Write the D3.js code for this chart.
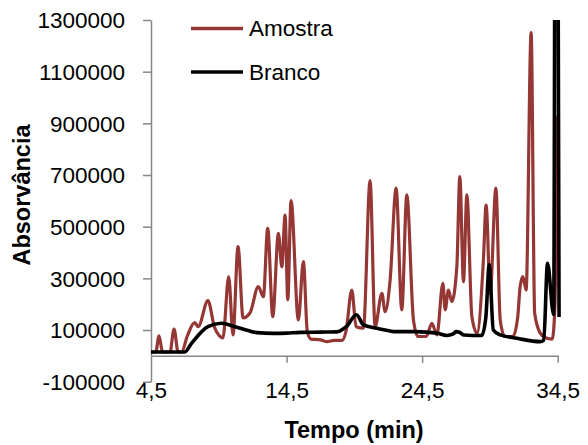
<!DOCTYPE html>
<html>
<head>
<meta charset="utf-8">
<script src="https://cdn.jsdelivr.net/npm/d3@7"></script>
<style>
    body { margin: 0; background: #fff; }
    text { font-family: "Liberation Sans", Arial, sans-serif; fill: #000; }
</style>
</head>
<body>
<svg id="vis" width="588" height="445"></svg>
<script>
const seriesNames = ["Amostra", "Branco"]
const seriesColors = ["#953735", "#000000"]

const xTicks = [4.5, 14.5, 24.5, 34.5]
const yTicks = [-100000, 100000, 300000, 500000, 700000, 900000, 1100000, 1300000]

// Amostra (sample) trace
const amostraTime = [
    4.5, 4.85, 5.09, 5.35, 5.9, 6.2, 6.5, 6.75, 7.2, 7.72, 7.98, 8.7, 9.2, 9.81,
    10.23, 10.55, 10.92, 11.29, 11.8, 12.42, 12.79, 13.11, 13.48, 13.9, 14.15, 14.39,
    14.59, 14.83, 15.37, 15.74, 16.03, 16.3, 17.0, 17.5, 18.0, 18.6, 18.9, 19.31,
    19.63, 20.17, 20.66, 21.03, 21.53, 21.77, 22.14, 22.58, 23.0, 23.37, 23.86, 24.2,
    24.8, 25.22, 25.59, 26.03, 26.2, 26.44, 26.69, 27.06, 27.28, 27.55, 27.8, 28.17,
    28.54, 29.02, 29.22, 29.52, 29.94, 30.26, 30.6, 31.2, 31.55, 31.73, 31.93, 32.17,
    32.54, 32.8, 33.2, 33.6, 34.1, 34.3, 34.5, 34.56
]
const amostraValue = [
    15000, 15000, 77000, 15000, 15000, 104000, 15000, 15000, 80000, 129000, 113000, 214000, 108000, 70000,
    307000, 81000, 423000, 147000, 166000, 268000, 229000, 494000, 152000, 474000, 345000, 545000,
    217000, 601000, 139000, 365000, 94000, 65000, 62000, 55000, 60000, 60000, 100000, 255000,
    113000, 107000, 678000, 113000, 242000, 171000, 294000, 649000, 178000, 623000, 139000, 75000,
    75000, 126000, 81000, 281000, 178000, 255000, 210000, 345000, 694000, 287000, 623000, 152000,
    88000, 371000, 584000, 242000, 649000, 139000, 75000, 75000, 150000, 268000, 307000, 255000,
    1251000, 166000, 89000, 70000, 65000, 200000, 925000, 500000
]

// Branco (blank) trace
const brancoTime = [
    4.5, 6.99, 7.5, 8.7, 9.69, 10.7, 11.66, 12.3, 13.5, 14.5, 15.5, 17.0, 18.2, 18.9,
    19.66, 20.17, 21.15, 21.77, 22.4, 24.0, 25.6, 26.3, 26.8, 27.0, 27.3, 27.55, 28.9,
    29.2, 29.45, 29.75, 30.26, 31.5, 33.2, 33.47, 33.75, 34.2, 34.4, 34.6
]
const brancoValue = [
    15000, 15000, 49000, 113000, 126000, 113000, 98000, 90000, 87000, 88000, 91000, 92000, 93000, 113000,
    159000, 120000, 107000, 100000, 94000, 94000, 88000, 79000, 85000, 94000, 90000, 81000, 79000,
    150000, 352000, 100000, 81000, 68000, 55000, 60000, 358000, 160000, 4000000, 150000
]

var svg = d3.select("#vis")

var xScale = d3.scaleLinear().domain([4.5, 34.5]).range([151, 557.7])
var yScale = d3.scaleLinear().domain([-100000, 1300000]).range([381.7, 20])

var fmt = function(v) { return String(v).replace(".", ",") }

svg.append("defs").append("clipPath")
    .attr("id", "plotclip")
    .append("rect")
    .attr("x", 151).attr("y", 20)
    .attr("width", 415).attr("height", 362)

// y axis
var yAxis = d3.axisLeft(yScale).tickValues(yTicks).tickSizeInner(8).tickSizeOuter(0).tickPadding(18)
    .tickFormat(function(d) { return String(d) })
var yGroup = svg.append("g").attr("transform", "translate(151,0)").call(yAxis)
yGroup.selectAll("text").style("font-size", "22.5px").attr("dy", "0.35em")

// x axis sits at zero
var xAxis = d3.axisBottom(xScale).tickValues(xTicks).tickSizeInner(7).tickSizeOuter(0).tickFormat(fmt)
var xGroup = svg.append("g").attr("transform", "translate(0," + yScale(0) + ")").call(xAxis)
xGroup.selectAll("text").style("font-size", "22.5px").attr("y", 42).attr("dy", 0)
xGroup.selectAll(".tick").filter(function(d) { return d === 4.5 }).select("line").remove()

svg.selectAll(".domain, .tick line").attr("stroke", "#868686").attr("stroke-width", 1.5)
svg.selectAll(".tick text").attr("fill", "#000")

var line = d3.line()
    .curve(d3.curveMonotoneX)
    .x(function(d) { return xScale(d[0]) })
    .y(function(d) { return yScale(d[1]) })

var series = [
    d3.zip(amostraTime, amostraValue),
    d3.zip(brancoTime, brancoValue)
]

var plot = svg.append("g").attr("clip-path", "url(#plotclip)")
plot.selectAll("path")
    .data(series)
    .enter()
    .append("path")
    .attr("d", line)
    .attr("fill", "none")
    .attr("stroke", function(d, i) { return seriesColors[i] })
    .attr("stroke-width", function(d, i) { return i === 0 ? 3.2 : 3.6 })
    .attr("stroke-linejoin", "round")

// legend
var legend = svg.append("g")
seriesNames.forEach(function(name, i) {
    var y = 28.5 + i * 43.5
    legend.append("line")
        .attr("x1", 191).attr("x2", 243)
        .attr("y1", y).attr("y2", y)
        .attr("stroke", seriesColors[i]).attr("stroke-width", 3.5)
    legend.append("text")
        .attr("x", 249).attr("y", y + 7.5)
        .style("font-size", "22.5px")
        .text(name)
})

// axis titles
svg.append("text")
    .attr("x", 354).attr("y", 438)
    .attr("text-anchor", "middle")
    .style("font-size", "23.5px").style("font-weight", "bold")
    .text("Tempo (min)")

svg.append("text")
    .attr("transform", "translate(30,195) rotate(-90)")
    .attr("text-anchor", "middle")
    .style("font-size", "23.5px").style("font-weight", "bold")
    .text("Absorvância")
</script>
</body>
</html>
